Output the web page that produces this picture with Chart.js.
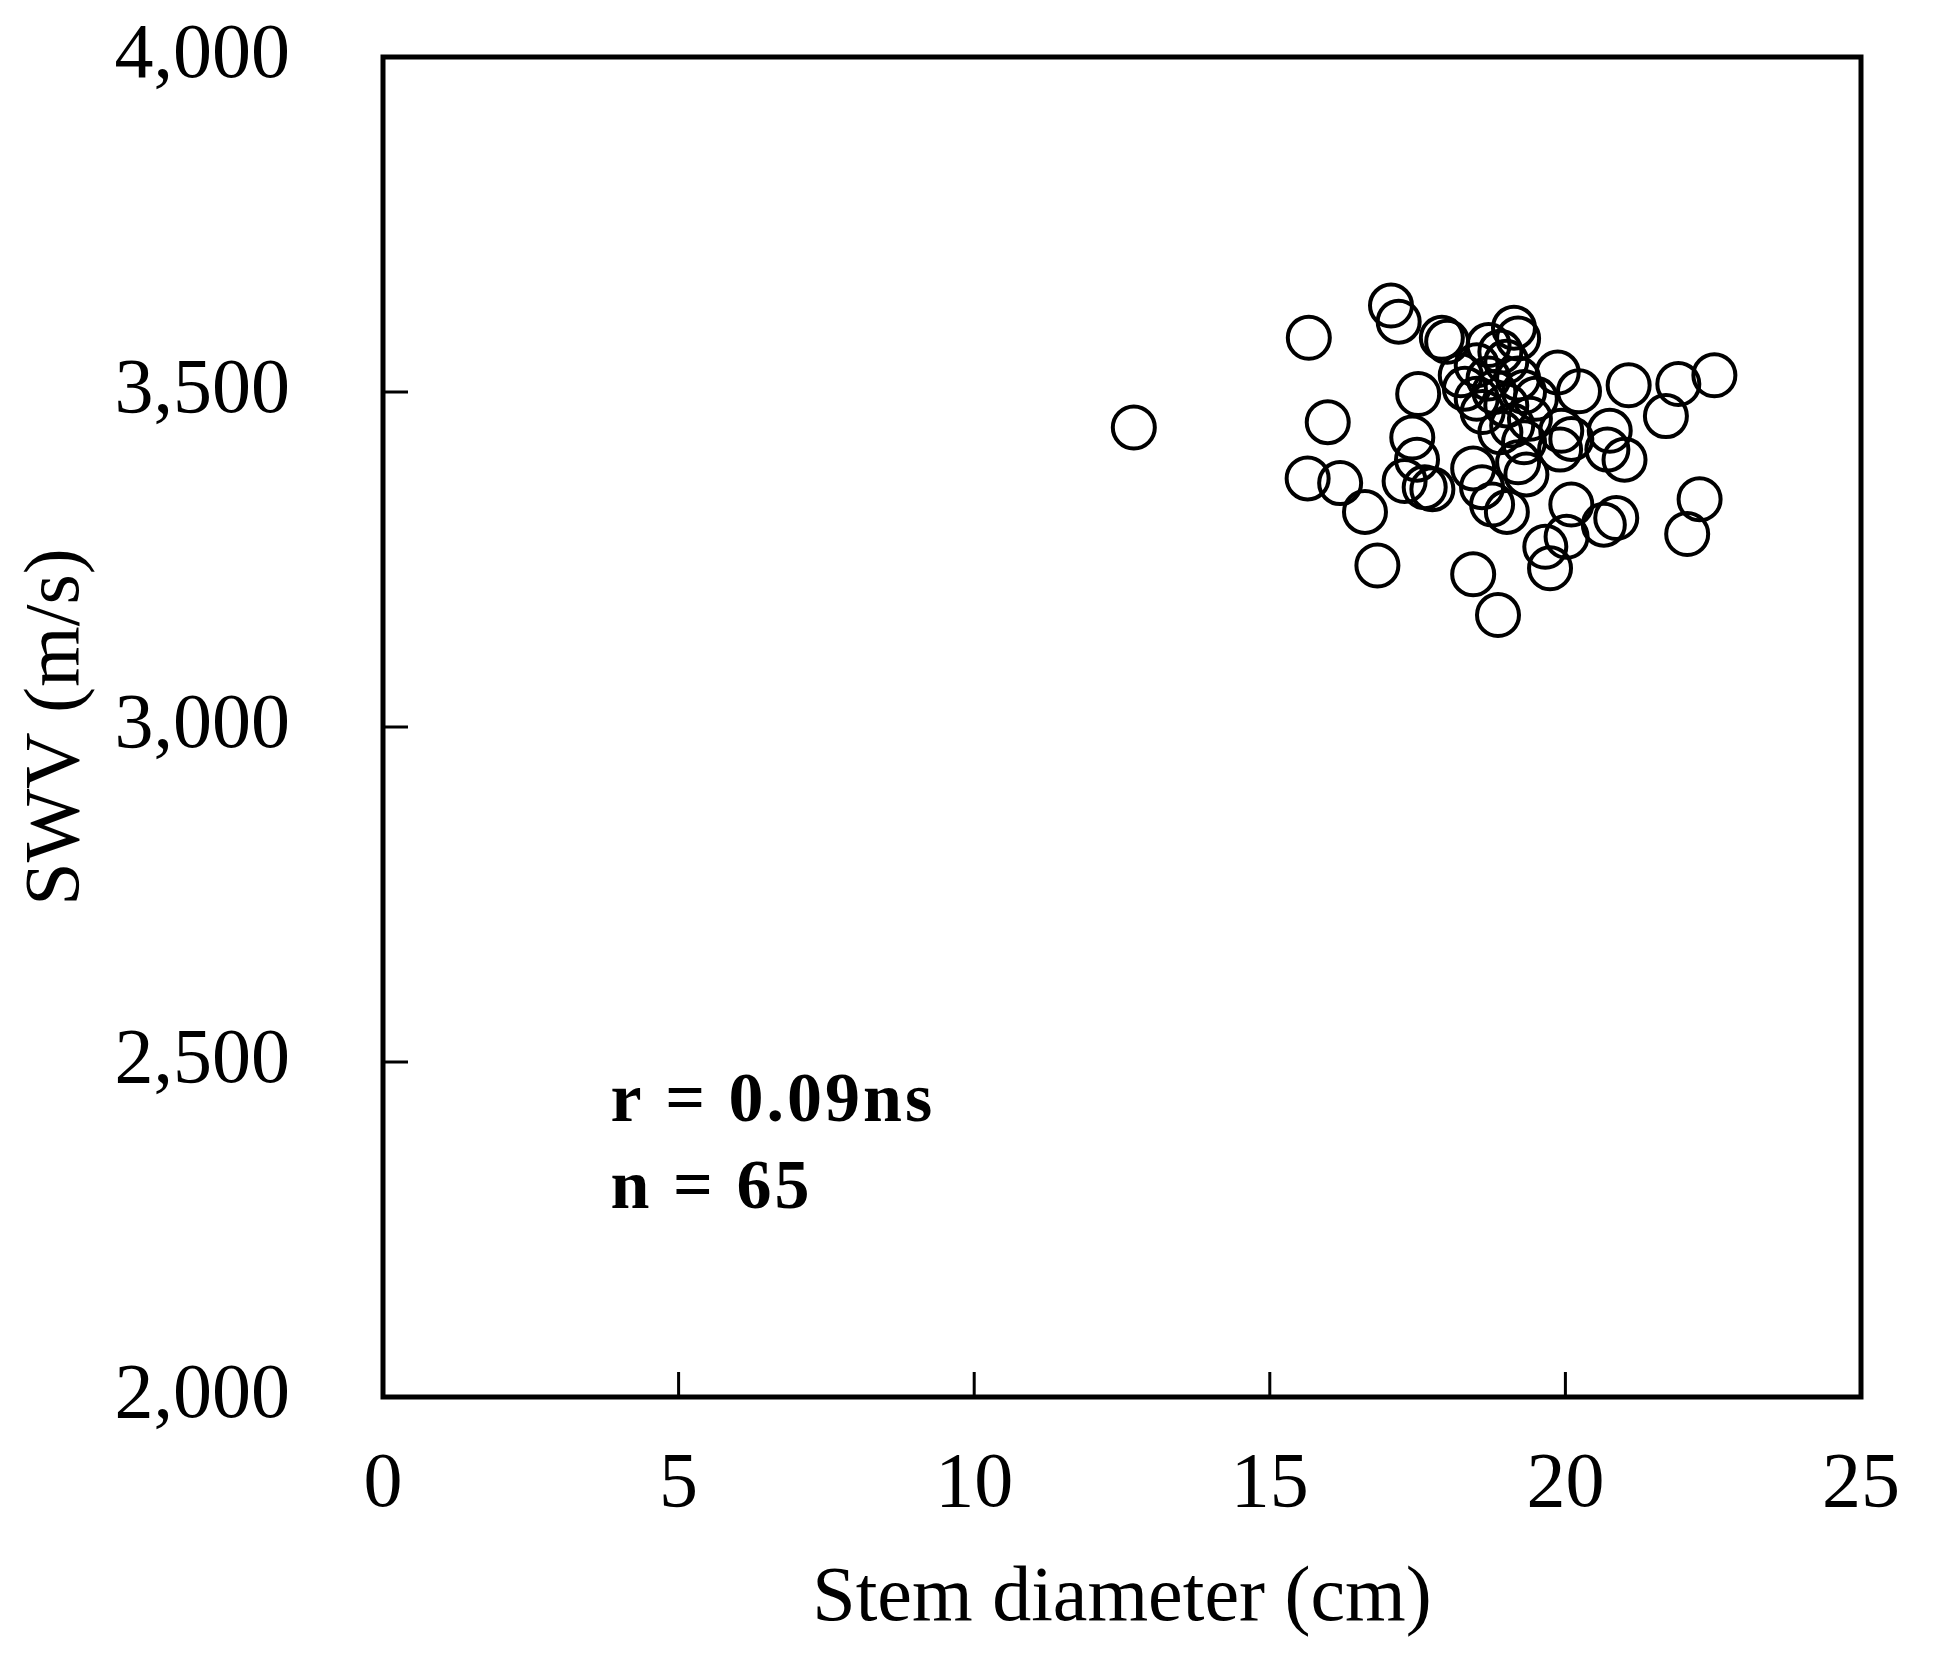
<!DOCTYPE html>
<html lang="en">
<head>
    <meta charset="UTF-8">
    <title>SWV vs Stem diameter</title>
    <script src="https://cdn.jsdelivr.net/npm/chart.js"></script>
    <style>
        html, body { margin: 0; padding: 0; background: #fff; }
        canvas { display: block; }
    </style>
</head>
<body>
    <canvas id="swvChart" width="1949" height="1666"></canvas>

    <script>
        // Stem diameter (cm) and SWV (m/s)
        const diameter = [
            12.7, 15.66, 15.98, 15.64, 16.19, 16.61, 16.82, 17.05, 17.18, 17.51,
            17.41, 17.49, 17.28, 17.62, 17.75, 17.91, 18.0, 18.23, 18.44, 18.86,
            18.44, 18.59, 18.76, 19.01, 19.13, 19.2, 19.87, 20.23, 19.93, 20.1,
            19.91, 20.75, 20.71, 21.0, 21.07, 20.1, 20.02, 19.66, 19.74, 20.65,
            20.86, 21.7, 21.91, 22.52, 22.27, 22.06, 19.34,
            18.5, 18.7, 18.9, 19.0, 18.3, 18.5, 18.6, 18.8, 19.0,
            19.2, 19.3, 19.4, 18.9, 19.1, 19.3, 18.7, 19.5, 19.2
        ];
        const swv = [
            3447, 3581, 3455, 3371, 3364, 3321, 3241, 3629, 3605, 3497,
            3432, 3399, 3367, 3358, 3355, 3581, 3575, 3525, 3228, 3167,
            3386, 3358, 3332, 3321, 3596, 3580, 3529, 3501, 3442, 3430,
            3414, 3442, 3414, 3399, 3510, 3332, 3284, 3269, 3237, 3302,
            3312, 3464, 3512, 3525, 3340, 3288, 3377,
            3540, 3570, 3560, 3545, 3505, 3490, 3470, 3500, 3480,
            3520, 3500, 3460, 3440, 3450, 3425, 3520, 3490, 3395
        ];
        const xTicks = [0, 5, 10, 15, 20, 25];
        const yTicks = [2000, 2500, 3000, 3500, 4000];
        const statLines = ['r = 0.09ns', 'n = 65'];

        const points = diameter.map((d, i) => ({ x: d, y: swv[i] }));

        // frame, inward ticks, axis titles and the r / n note
        const framePlugin = {
            id: 'frame',
            afterDraw(chart) {
                const { ctx, chartArea: a, scales } = chart;
                ctx.save();
                ctx.strokeStyle = '#000';
                ctx.lineWidth = 5;
                ctx.strokeRect(a.left, a.top, a.right - a.left, a.bottom - a.top);

                ctx.lineWidth = 3;
                ctx.beginPath();
                xTicks.slice(1, -1).forEach(v => {
                    const px = scales.x.getPixelForValue(v);
                    ctx.moveTo(px, a.bottom);
                    ctx.lineTo(px, a.bottom - 25);
                });
                yTicks.slice(1, -1).forEach(v => {
                    const py = scales.y.getPixelForValue(v);
                    ctx.moveTo(a.left, py);
                    ctx.lineTo(a.left + 25, py);
                });
                ctx.stroke();

                ctx.fillStyle = '#000';
                // x title
                ctx.font = '78px "Liberation Serif", "Times New Roman", serif';
                ctx.textAlign = 'center';
                ctx.textBaseline = 'alphabetic';
                ctx.fillText('Stem diameter (cm)', (a.left + a.right) / 2, 1620);

                // y title
                ctx.save();
                ctx.translate(58, (a.top + a.bottom) / 2);
                ctx.rotate(-Math.PI / 2);
                ctx.textBaseline = 'middle';
                ctx.fillText('SWV (m/s)', 0, 0);
                ctx.restore();

                // statistics note
                ctx.font = 'bold 70px "Liberation Serif", "Times New Roman", serif';
                ctx.textAlign = 'left';
                ctx.letterSpacing = '3px';
                const nx = scales.x.getPixelForValue(3.85);
                ctx.fillText(statLines[0], nx, scales.y.getPixelForValue(2412));
                ctx.fillText(statLines[1], nx, scales.y.getPixelForValue(2282));
                ctx.restore();
            }
        };

        const tickFont = { family: '"Liberation Serif", "Times New Roman", serif', size: 78 };

        new Chart(document.getElementById('swvChart'), {
            type: 'scatter',
            data: {
                datasets: [{
                    data: points,
                    pointStyle: 'circle',
                    pointRadius: 21,
                    pointHoverRadius: 21,
                    borderWidth: 4,
                    borderColor: '#000',
                    backgroundColor: 'rgba(0,0,0,0)'
                }]
            },
            options: {
                responsive: false,
                animation: false,
                devicePixelRatio: 1,
                layout: { padding: { left: 0, top: 57, right: 88, bottom: 0 } },
                plugins: {
                    legend: { display: false },
                    tooltip: { enabled: false }
                },
                scales: {
                    x: {
                        type: 'linear',
                        min: 0,
                        max: 25,
                        afterBuildTicks: s => { s.ticks = xTicks.map(v => ({ value: v })); },
                        ticks: { font: tickFont, color: '#000', padding: 42, maxRotation: 0 },
                        grid: { display: false, drawTicks: false },
                        border: { display: false },
                        afterFit: s => {
                            s.height = 269;
                            s.paddingLeft = 0;
                            s.paddingRight = 0;
                        }
                    },
                    y: {
                        type: 'linear',
                        min: 2000,
                        max: 4000,
                        afterBuildTicks: s => { s.ticks = yTicks.map(v => ({ value: v })); },
                        ticks: {
                            font: tickFont,
                            color: '#000',
                            padding: 93,
                            callback: v => v.toLocaleString('en-US')
                        },
                        grid: { display: false, drawTicks: false },
                        border: { display: false },
                        afterFit: s => {
                            s.width = 383;
                            s.paddingTop = 0;
                            s.paddingBottom = 0;
                        }
                    }
                }
            },
            plugins: [framePlugin]
        });
    </script>
</body>
</html>
